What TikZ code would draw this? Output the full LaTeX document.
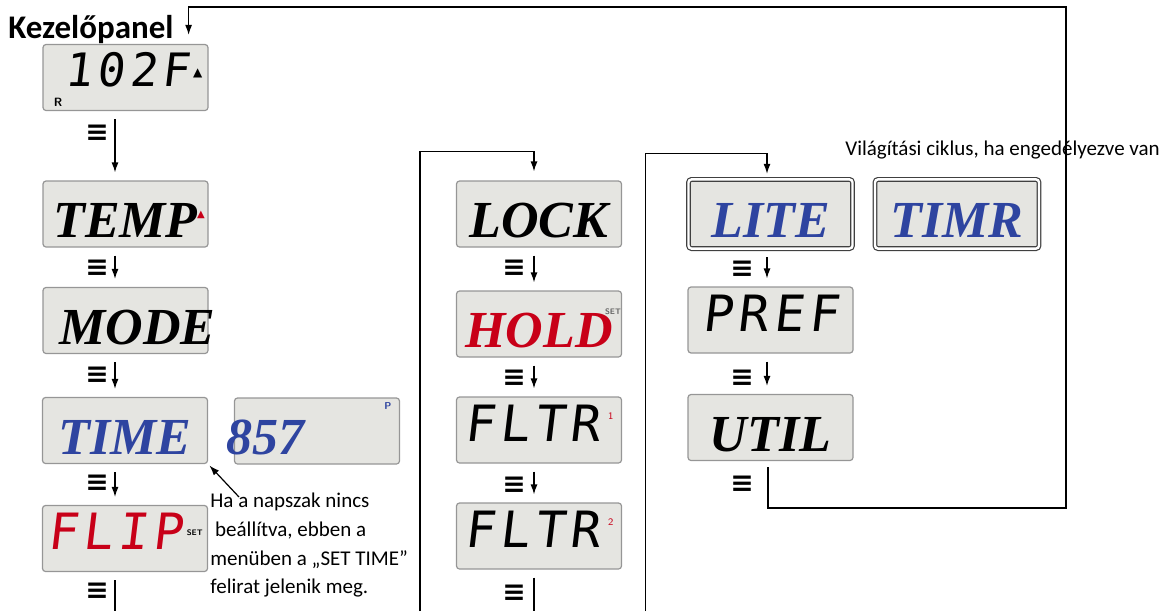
\documentclass[tikz,border=0pt]{standalone}
\usepackage{fontspec}
\setmainfont{Carlito}
\newfontfamily\lcdfont{DejaVu Sans Mono}[FakeSlant=0.12,LetterSpace=10]
\newfontfamily\wordfont{Liberation Serif}
\newfontfamily\symbfont{DejaVu Sans}
\usetikzlibrary{arrows.meta,positioning}
\definecolor{lcdgray}{RGB}{229,229,225}
\definecolor{lcdedge}{RGB}{150,150,150}
\definecolor{dispblue}{RGB}{46,68,160}
\definecolor{dispred}{RGB}{200,0,24}
\tikzset{
  lcd/.style={rectangle,rounded corners=1.5pt,draw=lcdedge,fill=lcdgray,line width=0.6pt,
    minimum width=82.5pt,minimum height=33pt,inner sep=0pt},
  lcdring/.style={lcd,draw=black!75,double=white,double distance=1.2pt,
    minimum width=82pt,minimum height=34.6pt},
  seg/.style={font=\lcdfont\fontsize{25}{25}\selectfont,text height=18pt,text depth=7pt},
  word/.style={font=\wordfont\bfseries\itshape\fontsize{26}{26}\selectfont,text height=23.5pt,text depth=0pt},
  menu/.style={font=\symbfont\bfseries\fontsize{14}{14}\selectfont,inner sep=0pt},
  flow/.style={->,line width=0.6pt,shorten <=4pt,shorten >=4pt},
  wire/.style={line width=0.6pt},
  tinymark/.style={inner sep=0pt,font=\sffamily\bfseries\fontsize{5}{5}\selectfont}
}
\begin{document}
\begin{tikzpicture}[x=0.5pt,y=-0.5pt,>={Latex[length=5pt,width=3.5pt]}]
    \useasboundingbox (0,0) rectangle (1173,611);

    \node[font=\bfseries\fontsize{16.5}{16.5}\selectfont,anchor=base west,inner sep=0pt] (title) at (8,38) {Kezelőpanel};
    \node[font=\fontsize{10.5}{12}\selectfont,anchor=base west,inner sep=0pt] (litenote) at (845,155) {Világítási ciklus, ha engedélyezve van};

    \node[lcd,seg,font=\lcdfont\fontsize{23}{23}\selectfont,text height=16pt] (panel) at (125.5,77.5)
      {\hspace{8pt}102F\hspace{2pt}\raisebox{5pt}{\symbfont\fontsize{6}{6}\selectfont ▲}};
    \node[tinymark,font=\sffamily\bfseries\fontsize{6}{6}\selectfont] (rmark) at (58,102) {R};
    \node[lcd,word] (temp) at (125.5,214) {TEMP};
    \node[tinymark,text=dispred,font=\symbfont\fontsize{5}{5}\selectfont] (tempmark) at (201,215) {▲};
    \node[lcd,word] (mode) at (125.5,320.5) {\hspace{12pt}\makebox[0pt]{MODE}};
    \node[lcd,word,text=dispblue] (time) at (125,430.5) {TIME};
    \node[lcd] (clock) at (317,431) {};
    \node[word,text=dispblue,inner sep=0pt] (clocktext) at (265,431) {857};
    \node[tinymark,text=dispblue] (clockmark) at (388,406) {P};
    \node[lcd,seg,text=dispred] (flip) at (125,538.5) {FLIP\hspace{2pt}\raisebox{7pt}{\sffamily\bfseries\fontsize{4}{4}\selectfont\color{black}SET}};

    \node[lcd,word] (lock) at (539,214) {LOCK};
    \node[lcd,word,text=dispred] (hold) at (539,324) {HOLD};
    \node[tinymark,text=black!60,font=\sffamily\bfseries\fontsize{4}{4}\selectfont] (holdmark) at (613,312) {SET};
    \node[lcd,seg] (fltr1) at (539,430) {FLTR\hspace{4pt}\raisebox{11pt}{\sffamily\fontsize{5}{5}\selectfont\color{dispred}1}};
    \node[lcd,seg] (fltr2) at (539,536) {FLTR\hspace{4pt}\raisebox{11pt}{\sffamily\fontsize{5}{5}\selectfont\color{dispred}2}};

    \node[lcdring,word,text=dispblue] (lite) at (770.5,214) {\makebox[0pt]{LITE}\hspace{9.5pt}};
    \node[lcdring,word,text=dispblue] (timr) at (957,214) {TIMR};
    \node[lcd,seg] (pref) at (770.5,320) {PREF\hspace{13pt}};
    \node[lcd,word] (util) at (770.5,427.5) {UTIL};

    \node[menu] (m1) at (97,133) {≡};
    \node[menu] (m2) at (97,268) {≡};
    \node[menu] (m3) at (97,375) {≡};
    \node[menu] (m4) at (97,483) {≡};
    \node[menu] (m5) at (97,591) {≡};
    \node[menu] (m6) at (514,268) {≡};
    \node[menu] (m7) at (514,378) {≡};
    \node[menu] (m8) at (514,485) {≡};
    \node[menu] (m9) at (514,593) {≡};
    \node[menu] (m10) at (742,269) {≡};
    \node[menu] (m11) at (742,378) {≡};
    \node[menu] (m12) at (742,484) {≡};

    \node[font=\fontsize{10.5}{14.3}\selectfont,align=left,anchor=north west,inner sep=0pt] (note) at (210,493)
      {Ha a napszak nincs\\\ beállítva, ebben a\\menüben a „SET TIME”\\felirat jelenik meg.};

    \coordinate (flipout) at (115,611);
    \coordinate (fltrout) at (534,611);
    \coordinate (midbot) at (420,611);
    \coordinate (rightbot) at (645.5,611);
    \coordinate (loopcorner) at (1066,508);

    \draw[flow] ([xshift=-5.25pt]panel.south) -- ([xshift=-5.25pt]temp.north);
    \draw[flow] ([xshift=-5.25pt]temp.south) -- ([xshift=-5.25pt]mode.north);
    \draw[flow] ([xshift=-5.25pt]mode.south) -- ([xshift=-5pt]time.north);
    \draw[flow] ([xshift=-5pt]time.south) -- ([xshift=-5pt]flip.north);
    \draw[wire] ([xshift=-5pt,yshift=-4pt]flip.south) -- (flipout);

    \draw[flow] ([xshift=-2.5pt]lock.south) -- ([xshift=-2.5pt]hold.north);
    \draw[flow] ([xshift=-2.5pt]hold.south) -- ([xshift=-2.5pt]fltr1.north);
    \draw[flow] ([xshift=-2.5pt]fltr1.south) -- ([xshift=-2.5pt]fltr2.north);
    \draw[wire] ([xshift=-2.5pt,yshift=-4pt]fltr2.south) -- (fltrout);
    \draw[wire,->] (midbot) |- ([xshift=-2.5pt,yshift=14.5pt]lock.north) -- ([xshift=-2.5pt,yshift=4.5pt]lock.north);

    \draw[wire,->] (rightbot) |- ([xshift=-1.75pt,yshift=12.5pt]lite.north) -- ([xshift=-1.75pt,yshift=2.5pt]lite.north);
    \draw[flow] ([xshift=-1.75pt]lite.south) -- ([xshift=-1.75pt]pref.north);
    \draw[flow] ([xshift=-1.75pt]pref.south) -- ([xshift=-1.75pt]util.north);
    \draw[wire,->] ([xshift=-1.25pt,yshift=-3pt]util.south) |- (loopcorner)
      |- ([xshift=-10pt,yshift=18.5pt]panel.north east) -- ([xshift=-10pt,yshift=4.5pt]panel.north east);

    \draw[wire,->,shorten >=1pt] ([xshift=14.5pt,yshift=-2pt]note.north west) -- (time.south east);
\end{tikzpicture}
\end{document}
